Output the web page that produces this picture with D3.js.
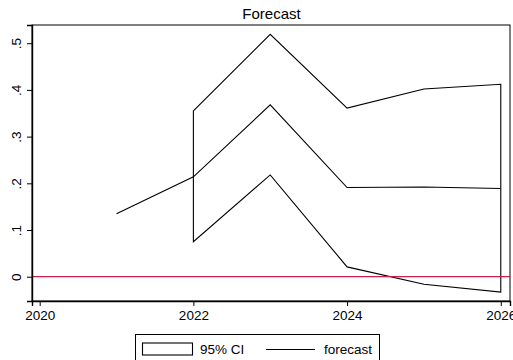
<!DOCTYPE html>
<html>
<head>
<meta charset="utf-8">
<script src="https://cdn.jsdelivr.net/npm/d3@7"></script>
<style>
  html, body { margin: 0; padding: 0; background: #fff; overflow: hidden; }
  svg { display: block; font-family: "Liberation Sans", Arial, sans-serif; }
</style>
</head>
<body>
<svg id="chart" width="513" height="360"></svg>
<script>
// Forecast series and its 95% confidence band
const years = [2021, 2022, 2023, 2024, 2025, 2026];
const forecast = [0.135, 0.214, 0.368, 0.191, 0.192, 0.189];
const ciYears = [2022, 2023, 2024, 2025, 2026];
const ciUpper = [0.355, 0.519, 0.361, 0.402, 0.412];
const ciLower = [0.075, 0.218, 0.021, -0.016, -0.033];
const xTicks = [2020, 2022, 2024, 2026];
const yTicks = [0, 0.1, 0.2, 0.3, 0.4, 0.5];
const yTickLabels = ["0", ".1", ".2", ".3", ".4", ".5"];
const refLine = 0;

const svg = d3.select("#chart");
const plot = { left: 32, right: 510, top: 25, bottom: 301 };

const x = d3.scaleLinear().domain([2019.9, 2026.12]).range([plot.left, plot.right]);
const y = d3.scaleLinear().domain([-0.052, 0.539]).range([plot.bottom, plot.top]);

// Title
svg.append("text")
  .attr("x", 271.5).attr("y", 19)
  .attr("text-anchor", "middle")
  .attr("font-size", 15)
  .text("Forecast");

// Plot region frame
svg.append("rect")
  .attr("x", plot.left).attr("y", plot.top)
  .attr("width", plot.right - plot.left).attr("height", plot.bottom - plot.top)
  .attr("fill", "none").attr("stroke", "#000").attr("stroke-width", 1);

// Confidence band drawn as an outlined area
const band = ciYears.map((yr, i) => ({ yr, lo: ciLower[i], hi: ciUpper[i] }));
const area = d3.area().x(d => x(d.yr)).y0(d => y(d.lo)).y1(d => y(d.hi));
svg.append("path")
  .attr("d", area(band))
  .attr("fill", "none").attr("stroke", "#000").attr("stroke-width", 1.1)
  .attr("stroke-linejoin", "miter");

// Forecast line
const line = d3.line().x((d, i) => x(years[i])).y(d => y(d));
svg.append("path")
  .attr("d", line(forecast))
  .attr("fill", "none").attr("stroke", "#000").attr("stroke-width", 1.1);

// Zero reference line
svg.append("line")
  .attr("x1", plot.left).attr("x2", plot.right)
  .attr("y1", y(refLine)).attr("y2", y(refLine))
  .attr("stroke", "#d01c4b").attr("stroke-width", 1.2);

// Axes
const xAxis = d3.axisBottom(x).tickValues(xTicks).tickFormat(d3.format("d")).tickSize(5).tickPadding(4);
const gx = svg.append("g").attr("transform", `translate(0,${plot.bottom})`).call(xAxis);
gx.select(".domain").attr("stroke-width", 1.4);
gx.selectAll("text").attr("font-size", 13.5).attr("font-family", "Liberation Sans, Arial, sans-serif").attr("fill", "#000");

const yAxis = d3.axisLeft(y).tickValues(yTicks).tickFormat((d, i) => yTickLabels[i]).tickSize(5);
const gy = svg.append("g").attr("transform", `translate(${plot.left},0)`).call(yAxis);
gy.select(".domain").attr("stroke-width", 1.4);
gy.selectAll("text")
  .attr("font-size", 13.5).attr("font-family", "Liberation Sans, Arial, sans-serif").attr("fill", "#000")
  .attr("x", null).attr("dy", null)
  .attr("text-anchor", "middle")
  .attr("transform", "translate(-16,0) rotate(-90)")
  .attr("dy", "0.35em");

// Legend
const leg = svg.append("g");
leg.append("rect").attr("x", 135.5).attr("y", 334.5).attr("width", 244).attr("height", 40)
  .attr("fill", "#fff").attr("stroke", "#000").attr("stroke-width", 1);
leg.append("rect").attr("x", 142.5).attr("y", 343).attr("width", 50).attr("height", 12)
  .attr("fill", "none").attr("stroke", "#000").attr("stroke-width", 1.1);
leg.append("text").attr("x", 200).attr("y", 354).attr("font-size", 13.5).text("95% CI");
leg.append("line").attr("x1", 266).attr("x2", 315).attr("y1", 349.5).attr("y2", 349.5)
  .attr("stroke", "#000").attr("stroke-width", 1.1);
leg.append("text").attr("x", 324).attr("y", 354).attr("font-size", 13.5).text("forecast");
</script>
</body>
</html>
